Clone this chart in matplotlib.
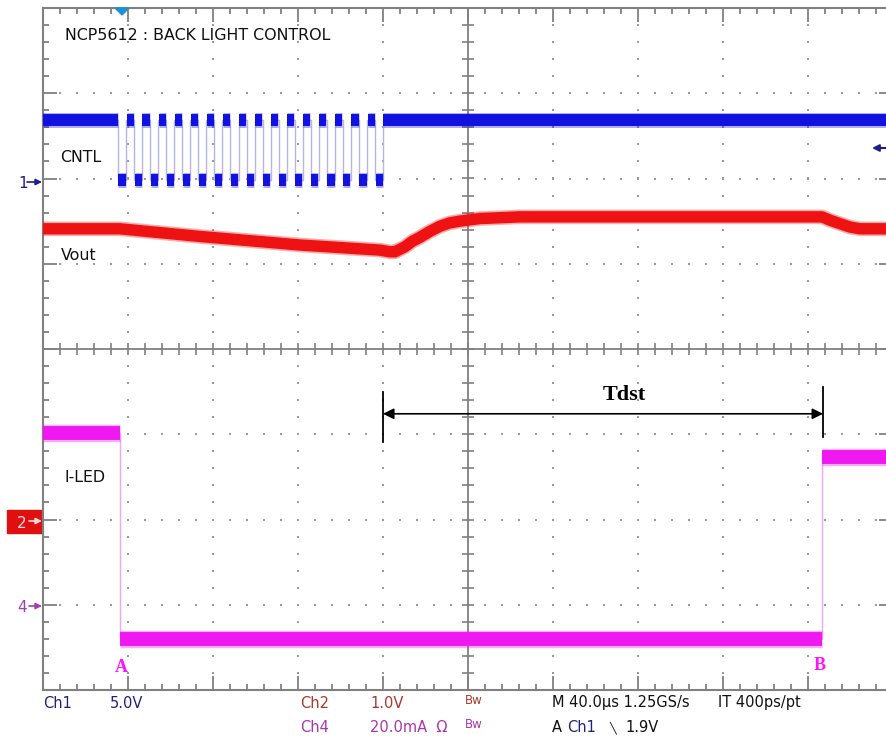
import matplotlib
matplotlib.use("Agg")
import matplotlib.pyplot as plt
from matplotlib.ticker import MultipleLocator
from matplotlib.patches import Rectangle, Polygon
import numpy as np

# scope setup: 40 us/div, 10 div wide, 8 div high
time_per_div = 40.0
ch1_scale, ch1_pos = 5.0, 6.0     # V/div, ground in div
ch2_scale, ch2_pos = 1.0, 2.0     # V/div
ch4_scale, ch4_pos = 20.0, 1.0    # mA/div

# CNTL (Ch1): pulse train edges in us, starts high
cntl_high = 3.45
cntl_low = -0.1
cntl_edges = [35.3, 39.1, 42.9, 46.6, 50.4, 54.2, 58.0, 61.8, 65.5, 69.3,
              73.1, 76.9, 80.7, 84.4, 88.2, 92.0, 95.8, 99.6, 103.3, 107.1,
              110.9, 114.7, 118.5, 122.2, 126.0, 129.8, 133.6, 137.4, 141.1,
              144.9, 148.7, 152.5, 156.3, 160.0]

# Vout (Ch2)
vout_t = [0, 36.2, 73.9, 120.9, 158.6, 163.3, 165.6, 170.4, 173.6, 177.4,
          182.1, 186.8, 191.5, 196.2, 205.6, 224.5, 262.1, 366.6, 370.4,
          375.1, 379.8, 384.5, 400]
vout_v = [3.41, 3.41, 3.32, 3.22, 3.16, 3.14, 3.14, 3.20, 3.26, 3.31,
          3.38, 3.44, 3.48, 3.50, 3.53, 3.55, 3.55, 3.55, 3.51,
          3.47, 3.43, 3.41, 3.41]

# I-LED (Ch4)
iled_switch = [36.2, 366.4]
iled_ma = [40.4, -8.0, 34.7]

# cursors for Tdst
tdst_start, tdst_end = 160.0, 367.1

W, H = 886, 741
def fx(x):
    return x / W
def fy(y):
    return 1 - y / H

fig = plt.figure(figsize=(W / 100, H / 100), dpi=100)
ax = fig.add_axes([fx(43), fy(690), 850 / W, 682 / H])
ax.set_xlim(0, 10 * time_per_div)
ax.set_ylim(0, 8)

grid_col = '#9a9a9a'
for s in ax.spines.values():
    s.set_color('#808080')
    s.set_linewidth(1.5)
ax.xaxis.set_major_locator(MultipleLocator(time_per_div))
ax.xaxis.set_minor_locator(MultipleLocator(time_per_div / 5))
ax.yaxis.set_major_locator(MultipleLocator(1))
ax.yaxis.set_minor_locator(MultipleLocator(0.2))
ax.tick_params(which='both', direction='in', top=True, right=True,
               labelbottom=False, labelleft=False, color='#808080', width=1.3)
ax.tick_params(which='major', length=10)
ax.tick_params(which='minor', length=4.3)

# dotted graticule
xs_minor = np.arange(8, 400, 8)
ys_minor = np.arange(0.2, 8, 0.2)
for k in range(1, 10):
    if k == 5:
        continue
    ax.scatter(np.full(len(ys_minor), k * time_per_div), ys_minor, s=1.6,
               marker='s', color=grid_col, linewidths=0, zorder=1)
for k in range(1, 8):
    if k == 4:
        continue
    ax.scatter(xs_minor, np.full(len(xs_minor), k), s=1.6, marker='s',
               color=grid_col, linewidths=0, zorder=1)
# center crosshair
ax.axvline(200, color='#808080', lw=1.3, zorder=1)
ax.axhline(4, color='#808080', lw=1.3, zorder=1)
ax.plot(xs_minor, np.full(len(xs_minor), 4), ls='none', marker='|',
        ms=9, mew=1.2, color='#808080', zorder=1)
ax.plot(np.full(len(ys_minor), 200), ys_minor, ls='none', marker='_',
        ms=9, mew=1.2, color='#808080', zorder=1)


def draw_digital(switch, levels, core, edge, lw, pad):
    bounds = [0] + list(switch) + [10 * time_per_div]
    st = []
    sy = []
    for i, lv in enumerate(levels):
        st += [bounds[i], bounds[i + 1]]
        sy += [lv, lv]
    ax.plot(st, sy, color=edge, lw=1.0, zorder=2)
    for i, lv in enumerate(levels):
        a = bounds[i] + (pad if i > 0 else 0)
        b = bounds[i + 1] - (pad if i < len(levels) - 1 else 0)
        ax.plot([a, b], [lv, lv], color=core, lw=lw * 1.25, alpha=0.35,
                solid_capstyle='butt', zorder=3)
        ax.plot([a, b], [lv, lv], color=core, lw=lw,
                solid_capstyle='butt', zorder=3)


# Ch1 CNTL
cntl_levels = [cntl_high if i % 2 == 0 else cntl_low
               for i in range(len(cntl_edges) + 1)]
draw_digital(cntl_edges, [ch1_pos + v / ch1_scale for v in cntl_levels],
             '#1212e0', '#b4b4ee', 8.6, 0.22)

# Ch2 Vout
vy = [ch2_pos + v / ch2_scale for v in vout_v]
ax.plot(vout_t, vy, color='#ee1212', lw=10.5, alpha=0.35,
        solid_joinstyle='round', zorder=3)
ax.plot(vout_t, vy, color='#ee1212', lw=8.2, solid_joinstyle='round', zorder=3)

# Ch4 I-LED
draw_digital(iled_switch, [ch4_pos + m / ch4_scale for m in iled_ma],
             '#f018f0', '#f0a8f0', 10, 0.0)

# Tdst cursor arrow
y_arr = 3.24
ax.annotate('', xy=(tdst_start, y_arr), xytext=(tdst_end, y_arr),
            arrowprops=dict(arrowstyle='<|-|>', color='k', lw=1.2,
                            mutation_scale=16, shrinkA=0, shrinkB=0),
            zorder=5)
ax.plot([tdst_start, tdst_start], [2.91, 3.49], color='k', lw=1.3, zorder=5)
ax.plot([tdst_end, tdst_end], [2.97, 3.56], color='k', lw=1.3, zorder=5)
ax.text((tdst_start + tdst_end) / 2 + 10, 3.46, 'Tdst', family='Liberation Serif',
        weight='bold', fontsize=16, ha='center', va='center', zorder=5)

# trace labels
lab = dict(fontsize=11.4, va='center', ha='left', color='#111111')
fig.text(fx(65), fy(36), 'NCP5612 : BACK LIGHT CONTROL', **lab)
fig.text(fx(60), fy(158), 'CNTL', **lab)
fig.text(fx(61), fy(256), 'Vout', **lab)
fig.text(fx(65), fy(478), 'I-LED', **lab)
serif = dict(family='Liberation Serif', weight='bold', fontsize=13,
             color='#ff10ff', ha='center', va='center')
fig.text(fx(121), fy(668), 'A', **serif)
fig.text(fx(820), fy(666), 'B', **serif)

# channel ground markers
fig.text(fx(18), fy(184), '1', fontsize=11, color='#1c1c8c', ha='left', va='center')
ax.annotate('', xy=(42, H - 182), xytext=(27, H - 182), xycoords='figure pixels',
            arrowprops=dict(arrowstyle='-|>', color='#1c1c8c', lw=1.2,
                            mutation_scale=9, shrinkA=0, shrinkB=0))
fig.add_artist(Rectangle((fx(7), fy(533)), 36 / W, 23 / H, color='#e01010',
                         transform=fig.transFigure, zorder=-1))
fig.text(fx(17), fy(523), '2', fontsize=11, color='#ffd8d8', ha='left', va='center')
ax.annotate('', xy=(42, H - 521), xytext=(29, H - 521), xycoords='figure pixels',
            arrowprops=dict(arrowstyle='-|>', color='#ffd8d8', lw=1.2,
                            mutation_scale=9, shrinkA=0, shrinkB=0))
fig.text(fx(17), fy(607), '4', fontsize=11, color='#a040b0', ha='left', va='center')
ax.annotate('', xy=(42, H - 606), xytext=(29, H - 606), xycoords='figure pixels',
            arrowprops=dict(arrowstyle='-|>', color='#a040b0', lw=1.2,
                            mutation_scale=9, shrinkA=0, shrinkB=0))
# trigger position and level markers
fig.add_artist(Polygon([(fx(115), fy(8)), (fx(129), fy(8)), (fx(122), fy(15))],
                       closed=True, color='#2090d0', transform=fig.transFigure))
ax.annotate('', xy=(872, H - 148), xytext=(890, H - 148), xycoords='figure pixels',
            arrowprops=dict(arrowstyle='-|>', color='#1c1c8c', lw=1.5,
                            mutation_scale=10, shrinkA=0, shrinkB=0))

# readout
ro = dict(fontsize=10.5, va='center', ha='left')
navy, brown, purple = '#22227a', '#a83a30', '#a838a8'
fig.text(fx(43), fy(703), 'Ch1', color=navy, **ro)
fig.text(fx(110), fy(703), '5.0V', color=navy, **ro)
fig.text(fx(300), fy(703), 'Ch2', color=brown, **ro)
fig.text(fx(370), fy(703), '1.0V', color=brown, **ro)
fig.text(fx(465), fy(701), 'Bw', color=brown, fontsize=8.5, va='center', ha='left')
fig.text(fx(552), fy(703), 'M 40.0\u00b5s 1.25GS/s', color='#111111', **ro)
fig.text(fx(718), fy(703), 'IT 400ps/pt', color='#111111', **ro)
fig.text(fx(300), fy(727), 'Ch4', color=purple, **ro)
fig.text(fx(370), fy(727), '20.0mA  \u03a9', color=purple, **ro)
fig.text(fx(465), fy(725), 'Bw', color=purple, fontsize=8.5, va='center', ha='left')
fig.text(fx(552), fy(727), 'A', color='#111111', **ro)
fig.text(fx(567), fy(727), 'Ch1', color=navy, **ro)
fig.text(fx(609), fy(728), '\u2572', color='#111111', fontsize=8, va='center', ha='left')
fig.text(fx(625), fy(727), '1.9V', color='#111111', **ro)

fig.savefig('out.png', dpi=100, facecolor='white')
